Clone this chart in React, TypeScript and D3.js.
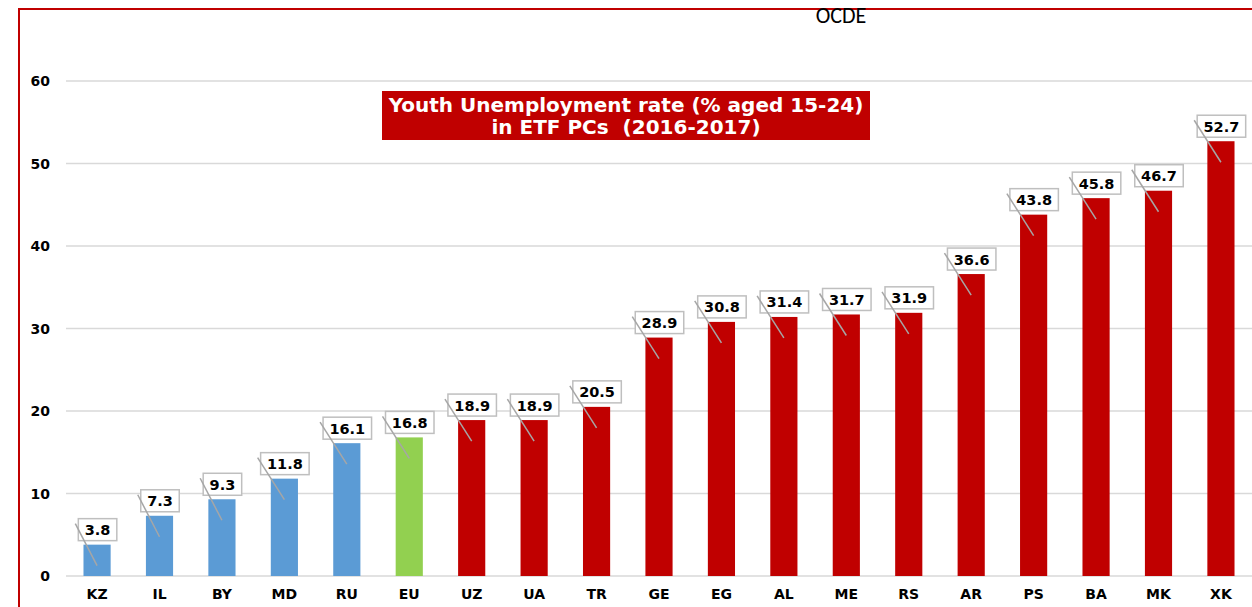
import React from 'react'
import * as d3 from 'd3'

const countries = ['KZ', 'IL', 'BY', 'MD', 'RU', 'EU', 'UZ', 'UA', 'TR', 'GE', 'EG', 'AL', 'ME', 'RS', 'AR', 'PS', 'BA', 'MK', 'XK']
const rates = [3.8, 7.3, 9.3, 11.8, 16.1, 16.8, 18.9, 18.9, 20.5, 28.9, 30.8, 31.4, 31.7, 31.9, 36.6, 43.8, 45.8, 46.7, 52.7]
const groups = ['other', 'other', 'other', 'other', 'other', 'eu', 'etf', 'etf', 'etf', 'etf', 'etf', 'etf', 'etf', 'etf', 'etf', 'etf', 'etf', 'etf', 'etf']
const yTicks = [0, 10, 20, 30, 40, 50, 60]
const titleLines = ['Youth Unemployment rate (% aged 15-24)', 'in ETF PCs  (2016-2017)']

const colors: Record<string, string> = { other: '#5B9BD5', eu: '#92D050', etf: '#C00000' }

const W = 1252
const H = 607
const font = 'Verdana, "DejaVu Sans", sans-serif'

function App() {
  const data = countries.map((c, i) => ({ c, v: rates[i], g: groups[i] }))

  const x = d3.scaleBand().domain(countries).range([66, 1252]).paddingInner(0.565).paddingOuter(0.28)
  const y = d3.scaleLinear().domain([0, 60]).range([576, 81])

  // rough label width for the value boxes
  const textW = (s: string) => s.split('').reduce((a, ch) => a + (ch === '.' ? 5.5 : 10), 0)

  return (
    <div style={{ position: 'absolute', left: 0, top: 0, width: W, height: H, overflow: 'hidden', background: '#fff' }}>
      <svg width={W} height={H} style={{ display: 'block' }}>
        {/* frame */}
        <path d={`M19,${H} V9 H${W}`} fill="none" stroke="#C00000" strokeWidth={2} />
        <text x={841} y={23} textAnchor="middle" fontFamily='Calibri, Carlito, "Liberation Sans", Arial, sans-serif' fontSize={22} fill="#000">OCDE</text>

        {/* grid */}
        <g>
          {yTicks.map(t => (
            <g key={t}>
              <line x1={66} x2={W} y1={y(t)} y2={y(t)} stroke="#D9D9D9" strokeWidth={1.3} />
              <text x={50} y={y(t) + 5} textAnchor="end" fontFamily={font} fontWeight="bold" fontSize={14} fill="#000">{t}</text>
            </g>
          ))}
        </g>

        {/* bars */}
        <g>
          {data.map(d => (
            <rect key={d.c} x={x(d.c)} y={y(d.v)} width={x.bandwidth()} height={y(0) - y(d.v)} fill={colors[d.g]} />
          ))}
        </g>

        {/* category labels */}
        <g>
          {data.map(d => (
            <text key={d.c} x={(x(d.c) as number) + x.bandwidth() / 2} y={599} textAnchor="middle" fontFamily={font} fontWeight="bold" fontSize={14} fill="#000">{d.c}</text>
          ))}
        </g>

        {/* value labels with leader lines */}
        <g>
          {data.map(d => {
            const cx = (x(d.c) as number) + x.bandwidth() / 2
            const top = y(d.v)
            const label = d.v.toFixed(1)
            const bw = textW(label) + 13
            const bh = 22
            const bx = cx - bw / 2 + 0.5
            const by = top - 4 - bh
            return (
              <g key={d.c}>
                <rect x={bx} y={by} width={bw} height={bh} fill="#fff" stroke="#BFBFBF" strokeWidth={1.5} />
                <text x={bx + bw / 2} y={by + 16.5} textAnchor="middle" fontFamily={font} fontWeight="bold" fontSize={14.5} fill="#000">{label}</text>
                <line x1={bx - 3} y1={by + 5} x2={cx} y2={top + 21} stroke="#A6A6A6" strokeWidth={1.5} />
              </g>
            )
          })}
        </g>

        {/* title box */}
        <rect x={382} y={91} width={488} height={49} fill="#C00000" />
        {titleLines.map((t, i) => (
          <text key={i} x={626} y={112 + i * 21.5} textAnchor="middle" xmlSpace="preserve" style={{ whiteSpace: 'pre' }} fontFamily={font} fontWeight="bold" fontSize={20} fill="#fff">{t}</text>
        ))}
      </svg>
    </div>
  )
}

export default App
